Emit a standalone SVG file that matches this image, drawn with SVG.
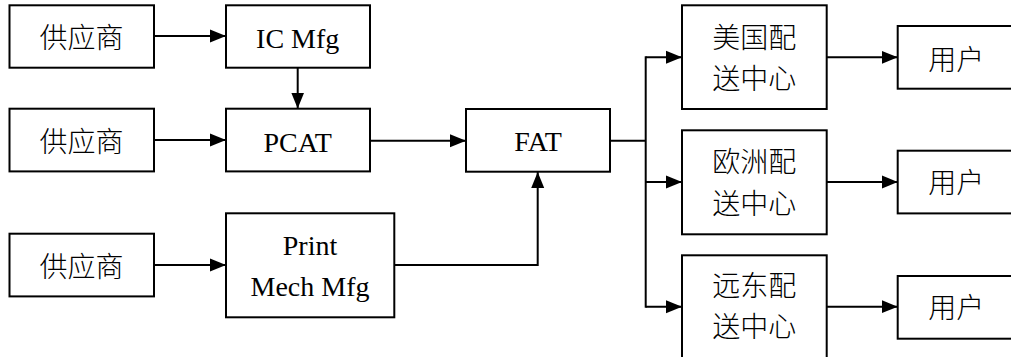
<svg xmlns="http://www.w3.org/2000/svg" width="1011" height="357" viewBox="0 0 1011 357">
<style>
rect{fill:#fff;stroke:#000;stroke-width:2}
.c path{fill:none;stroke:#000;stroke-width:2}
text{font-family:"Liberation Serif","Noto Sans CJK SC",serif;font-size:28px;fill:#000;text-anchor:middle}
.cj{font-family:"Noto Sans CJK SC",sans-serif;font-weight:300}
</style>
<defs>
<marker id="a" markerUnits="userSpaceOnUse" markerWidth="17" markerHeight="14" refX="16" refY="7" orient="auto">
<path d="M0,0.5 L16,7 L0,13.5 Z" fill="#000"/>
</marker>
</defs>
<g class="c">
<path d="M154,36 H226" marker-end="url(#a)"/>
<path d="M297.7,67.7 V108.5" marker-end="url(#a)"/>
<path d="M154,140 H226" marker-end="url(#a)"/>
<path d="M154,265 H226" marker-end="url(#a)"/>
<path d="M370,140.7 H466" marker-end="url(#a)"/>
<path d="M394.3,265 H537.7 V172" marker-end="url(#a)"/>
<path d="M610,140.7 H645.7"/>
<path d="M645.7,56.3 V307.7"/>
<path d="M645.7,57.3 H682" marker-end="url(#a)"/>
<path d="M645.7,182 H682" marker-end="url(#a)"/>
<path d="M645.7,306.7 H682" marker-end="url(#a)"/>
<path d="M826.7,57.3 H897.7" marker-end="url(#a)"/>
<path d="M826.7,182 H897.7" marker-end="url(#a)"/>
<path d="M826.7,306.7 H897.7" marker-end="url(#a)"/>
</g>
<g id="s1"><rect x="9.5" y="5.3" width="144.5" height="62.4"/><text class="cj" x="81.5" y="48">供应商</text></g>
<g id="s2"><rect x="9.5" y="108.7" width="144.5" height="62.7"/><text class="cj" x="81.5" y="151.5">供应商</text></g>
<g id="s3"><rect x="9.5" y="233.7" width="144.5" height="62.7"/><text class="cj" x="81.5" y="276.5">供应商</text></g>
<g id="ic"><rect x="226" y="5.3" width="144" height="62.4"/><text x="297.7" y="47.5">IC Mfg</text></g>
<g id="pcat"><rect x="226" y="108.7" width="144" height="62.7"/><text x="297.7" y="151.5">PCAT</text></g>
<g id="pm"><rect x="226" y="213.3" width="168.3" height="104"/><text x="310" y="255">Print</text><text x="310" y="295.5">Mech Mfg</text></g>
<g id="fat"><rect x="466" y="109" width="144" height="62.7"/><text x="538" y="151">FAT</text></g>
<g id="d1"><rect x="682" y="5.3" width="144.7" height="103.7"/><text class="cj" x="754.3" y="47.7">美国配</text><text class="cj" x="754.3" y="89">送中心</text></g>
<g id="d2"><rect x="682" y="130.3" width="144.7" height="104"/><text class="cj" x="754.3" y="172.3">欧洲配</text><text class="cj" x="754.3" y="213.5">送中心</text></g>
<g id="d3"><rect x="682" y="255.3" width="144.7" height="104"/><text class="cj" x="754.3" y="295.8">远东配</text><text class="cj" x="754.3" y="337.3">送中心</text></g>
<g id="u1"><rect x="897.7" y="26" width="144" height="62.7"/><text class="cj" x="956.3" y="70">用户</text></g>
<g id="u2"><rect x="897.7" y="150.7" width="144" height="62.7"/><text class="cj" x="956.3" y="193">用户</text></g>
<g id="u3"><rect x="897.7" y="276" width="144" height="62.7"/><text class="cj" x="956.3" y="318">用户</text></g>
</svg>
